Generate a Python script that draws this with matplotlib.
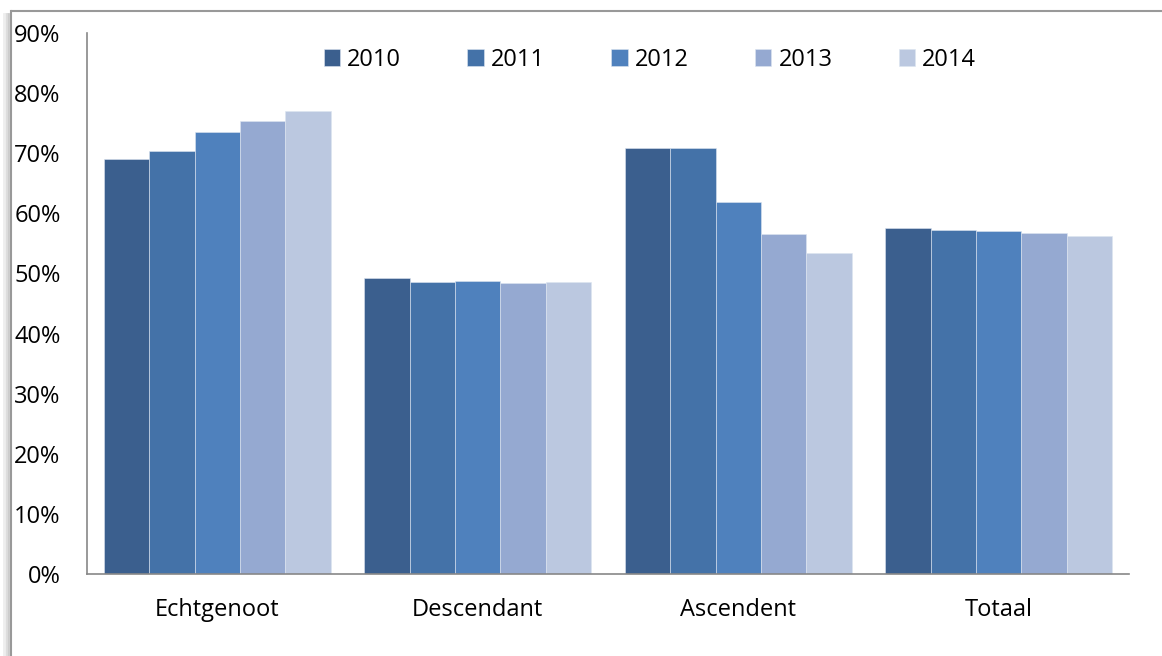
import numpy as np
import matplotlib.pyplot as plt
from matplotlib.lines import Line2D
from matplotlib.ticker import PercentFormatter

plt.rcParams['font.family'] = ['Open Sans', 'DejaVu Sans']

categories = ['Echtgenoot', 'Descendant', 'Ascendent', 'Totaal']
years = ['2010', '2011', '2012', '2013', '2014']
values = {
    '2010': [69.0, 49.3, 70.9, 57.6],
    '2011': [70.4, 48.5, 70.8, 57.3],
    '2012': [73.5, 48.7, 61.9, 57.0],
    '2013': [75.4, 48.4, 56.6, 56.8],
    '2014': [77.0, 48.6, 53.4, 56.2],
}
colors = ['#3B5F8E', '#4472A8', '#4F81BD', '#95A9D1', '#BBC8E0']

fig = plt.figure(figsize=(11.62, 6.56), dpi=100)
ax = fig.add_axes([87 / 1162, 1 - 574 / 656, (1129 - 87) / 1162, (574 - 33) / 656])

x = np.arange(len(categories))
w = 0.174
for i, yr in enumerate(years):
    ax.bar(x + (i - 2) * w, np.array(values[yr]) / 100, w, color=colors[i],
           label=yr, edgecolor='#dde5f0', linewidth=0.4, zorder=2)

ax.set_xlim(-0.5, 3.5)
ax.set_ylim(0, 0.9)
ax.set_yticks(np.arange(0, 0.91, 0.1))
ax.yaxis.set_major_formatter(PercentFormatter(1.0, decimals=0))
ax.set_xticks(x)
ax.set_xticklabels(categories)
ax.tick_params(axis='both', length=0, labelsize=17, colors='black')
ax.tick_params(axis='y', pad=19)
ax.tick_params(axis='x', pad=17)
for s in ['top', 'right']:
    ax.spines[s].set_visible(False)
for s in ['left', 'bottom']:
    ax.spines[s].set_color('#888888')
    ax.spines[s].set_linewidth(1.2)

ax.legend(ncol=5, frameon=False, fontsize=17, loc='center',
          bbox_to_anchor=(650 / 1162, 1 - 60 / 656), bbox_transform=fig.transFigure,
          handlelength=0.7, handleheight=0.7, handletextpad=0.3, columnspacing=2.8)

# outer frame (top and left edge with a soft shadow)
fig.add_artist(Line2D([12 / 1162, 1], [1 - 11 / 656] * 2, color='#999999', lw=1.5,
                      transform=fig.transFigure))
for k, c in enumerate(['#cccccc', '#dddddd', '#eeeeee']):
    fig.add_artist(Line2D([(8 - k * 2) / 1162] * 2, [0, 1 - 14 / 656], color=c, lw=2,
                          transform=fig.transFigure))
fig.add_artist(Line2D([11 / 1162] * 2, [0, 1 - 11 / 656], color='#999999', lw=1.5,
                      transform=fig.transFigure))

fig.savefig('out.png', dpi=100)
